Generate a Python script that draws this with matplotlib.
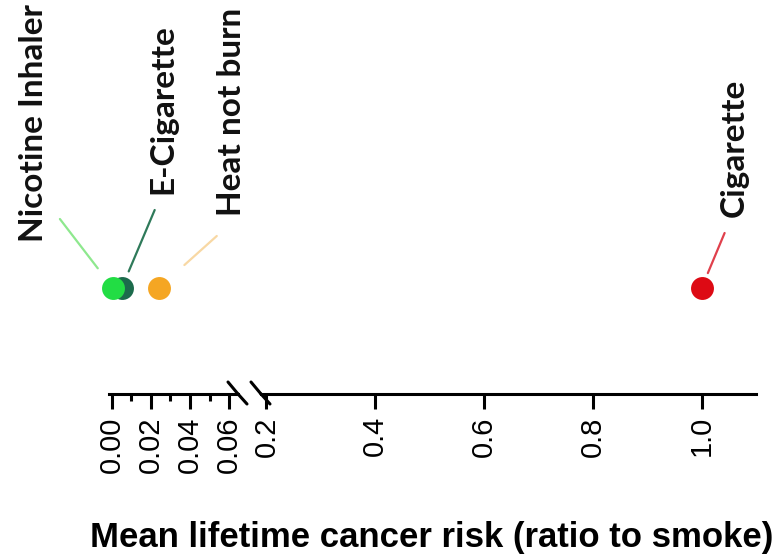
import matplotlib.pyplot as plt

# data
products = ['Nicotine Inhaler', 'E-Cigarette', 'Heat not burn', 'Cigarette']
risk = [0.0005, 0.005, 0.024, 1.0]
dot_colors = ['#22dd44', '#1c6b4c', '#f5a623', '#dd0a14']
line_colors = ['#8ee88e', '#2f7a5a', '#f8d8a4', '#e0404c']
# label / leader-line offsets in pixels from each dot
text_off = [(-79, 46), (41, 94), (73, 72), (33, 71)]
line_start = [(-16, 19), (6, 17), (28, 20), (6, 15)]
line_end = [(-53, 69), (33, 78), (58, 52), (23, 55)]

left_ticks = [0.00, 0.02, 0.04, 0.06]
left_minor = [0.01, 0.03, 0.05]
right_ticks = [0.2, 0.4, 0.6, 0.8, 1.0]

W, H = 782, 556
fig = plt.figure(figsize=(W / 100, H / 100), dpi=100)

axis_y = 394
ax1 = fig.add_axes([109 / W, (H - axis_y) / H, (238 - 109) / W, axis_y / H])
ax2 = fig.add_axes([261 / W, (H - axis_y) / H, (756 - 261) / W, axis_y / H])
ax1.set_xlim(-0.0015, 0.0646)
ax2.set_xlim(0.19, 1.1)

for ax in (ax1, ax2):
    ax.set_ylim(0, 1)
    ax.patch.set_alpha(0)
    for s in ('top', 'right', 'left'):
        ax.spines[s].set_visible(False)
    ax.spines['bottom'].set_linewidth(2.2)
    ax.set_yticks([])
    ax.tick_params(axis='x', which='major', length=11, width=2.2, pad=5,
                   labelsize=21, labelrotation=90)
    ax.tick_params(axis='x', which='minor', length=5, width=2.2)

ax1.set_xticks(left_ticks)
ax1.set_xticklabels([f'{v:.2f}' for v in left_ticks], family='Liberation Sans')
ax1.set_xticks(left_minor, minor=True)
ax2.set_xticks(right_ticks)
ax2.set_xticklabels([f'{v:.1f}' for v in right_ticks], family='Liberation Sans')

# break marks
for ax, xa in ((ax1, 1.0), (ax2, 0.0)):
    for dx, dy in ((-10, 12), (9, -10)):
        ax.annotate('', xy=(xa, 0), xycoords='axes fraction', xytext=(dx, dy),
                    textcoords='offset pixels', annotation_clip=False,
                    arrowprops=dict(arrowstyle='-', lw=2.2, color='black',
                                    shrinkA=0, shrinkB=0))

dot_y = (axis_y - 288) / axis_y
order = [1, 0, 2, 3]  # draw E-Cigarette under Nicotine Inhaler
for i in order:
    ax = ax1 if risk[i] < 0.1 else ax2
    ax.plot(risk[i], dot_y, 'o', ms=16.5, color=dot_colors[i], mec='none',
            clip_on=False, zorder=3)
    ax.annotate(products[i], xy=(risk[i], dot_y), xytext=text_off[i],
                textcoords='offset pixels', rotation=90, ha='center', va='bottom',
                fontsize=24, fontweight='bold', family='Lato', color='#111111',
                annotation_clip=False)
    ax.annotate('', xy=(risk[i], dot_y), xytext=line_end[i],
                textcoords='offset pixels', annotation_clip=False,
                arrowprops=dict(arrowstyle='-', lw=1.6, color=line_colors[i], shrinkA=0,
                                shrinkB=(line_start[i][0] ** 2 + line_start[i][1] ** 2) ** 0.5 * 0.72))

fig.text(432 / W, 1 - 537 / H, 'Mean lifetime cancer risk (ratio to smoke)',
         ha='center', va='center', fontsize=25, fontweight='bold',
         family='Liberation Sans')

fig.savefig('out.png', dpi=100)
